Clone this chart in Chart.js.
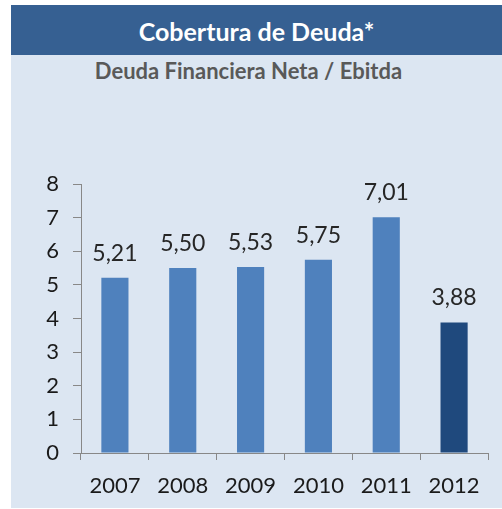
<!DOCTYPE html>
<html>
<head>
<meta charset="utf-8">
<script src="https://cdn.jsdelivr.net/npm/chart.js@4/dist/chart.umd.min.js"></script>
<style>
  body { margin: 0; background: #fff; }
  #panel { position: absolute; left: 11px; top: 5px; width: 491px; height: 503px; background: #dce6f2; }
  #banner { height: 50px; background: #366092; color: #fff; font: bold 25px Lato, sans-serif;
            text-align: center; line-height: 52px; }
  #sub { position: absolute; top: 52px; left: -8px; width: 100%; text-align: center; color: #595959;
         font: bold 22px Lato, sans-serif; line-height: 28px; }
  #wrap { position: absolute; left: 0; top: 50px; width: 491px; height: 453px; }
</style>
</head>
<body>
<div id="panel">
  <div id="banner">Cobertura de Deuda*</div>
  <div id="sub">Deuda Financiera Neta / Ebitda</div>
  <div id="wrap"><canvas id="chart"></canvas></div>
</div>
<script>
var years = ["2007", "2008", "2009", "2010", "2011", "2012"];
var ratio = [5.21, 5.50, 5.53, 5.75, 7.01, 3.88];
var barColors = ["#4f81bd", "#4f81bd", "#4f81bd", "#4f81bd", "#4f81bd", "#1f497d"];
var yTicks = [0, 1, 2, 3, 4, 5, 6, 7, 8];

// etiquetas encima de cada barra
var valueLabels = {
    id: 'valueLabels',
    afterDatasetsDraw: function(chart) {
        var ctx = chart.ctx;
        var meta = chart.getDatasetMeta(0);
        ctx.save();
        ctx.font = '23px Lato, sans-serif';
        ctx.fillStyle = '#262626';
        ctx.textAlign = 'center';
        ctx.textBaseline = 'bottom';
        meta.data.forEach(function(bar, i) {
            ctx.fillText(ratio[i].toFixed(2).replace('.', ','), bar.x, bar.y - 13);
        });
        ctx.restore();
    }
};

new Chart(document.getElementById('chart'), {
    type: 'bar',
    data: {
        labels: years,
        datasets: [{
            data: ratio,
            backgroundColor: barColors,
            categoryPercentage: 1,
            barPercentage: 0.4
        }]
    },
    options: {
        responsive: true,
        maintainAspectRatio: false,
        animation: false,
        layout: { padding: { top: 129, right: 14, bottom: 0, left: 0 } },
        plugins: { legend: { display: false }, tooltip: { enabled: false } },
        scales: {
            x: {
                grid: { drawOnChartArea: false, tickLength: 7, color: '#888888', offset: true },
                border: { color: '#888888' },
                ticks: { color: '#1a1a1a', font: { family: 'Lato', size: 22 }, padding: 13 },
                afterFit: function(s) { s.height = 55; }
            },
            y: {
                min: 0, max: 8,
                afterBuildTicks: function(s) { s.ticks = yTicks.map(function(v) { return { value: v }; }); },
                grid: { drawOnChartArea: false, tickLength: 8, color: '#888888' },
                border: { color: '#888888' },
                ticks: { color: '#1a1a1a', font: { family: 'Lato', size: 22 }, padding: 14 },
                afterFit: function(s) { s.width = 70; }
            }
        }
    },
    plugins: [valueLabels]
});
</script>
</body>
</html>
